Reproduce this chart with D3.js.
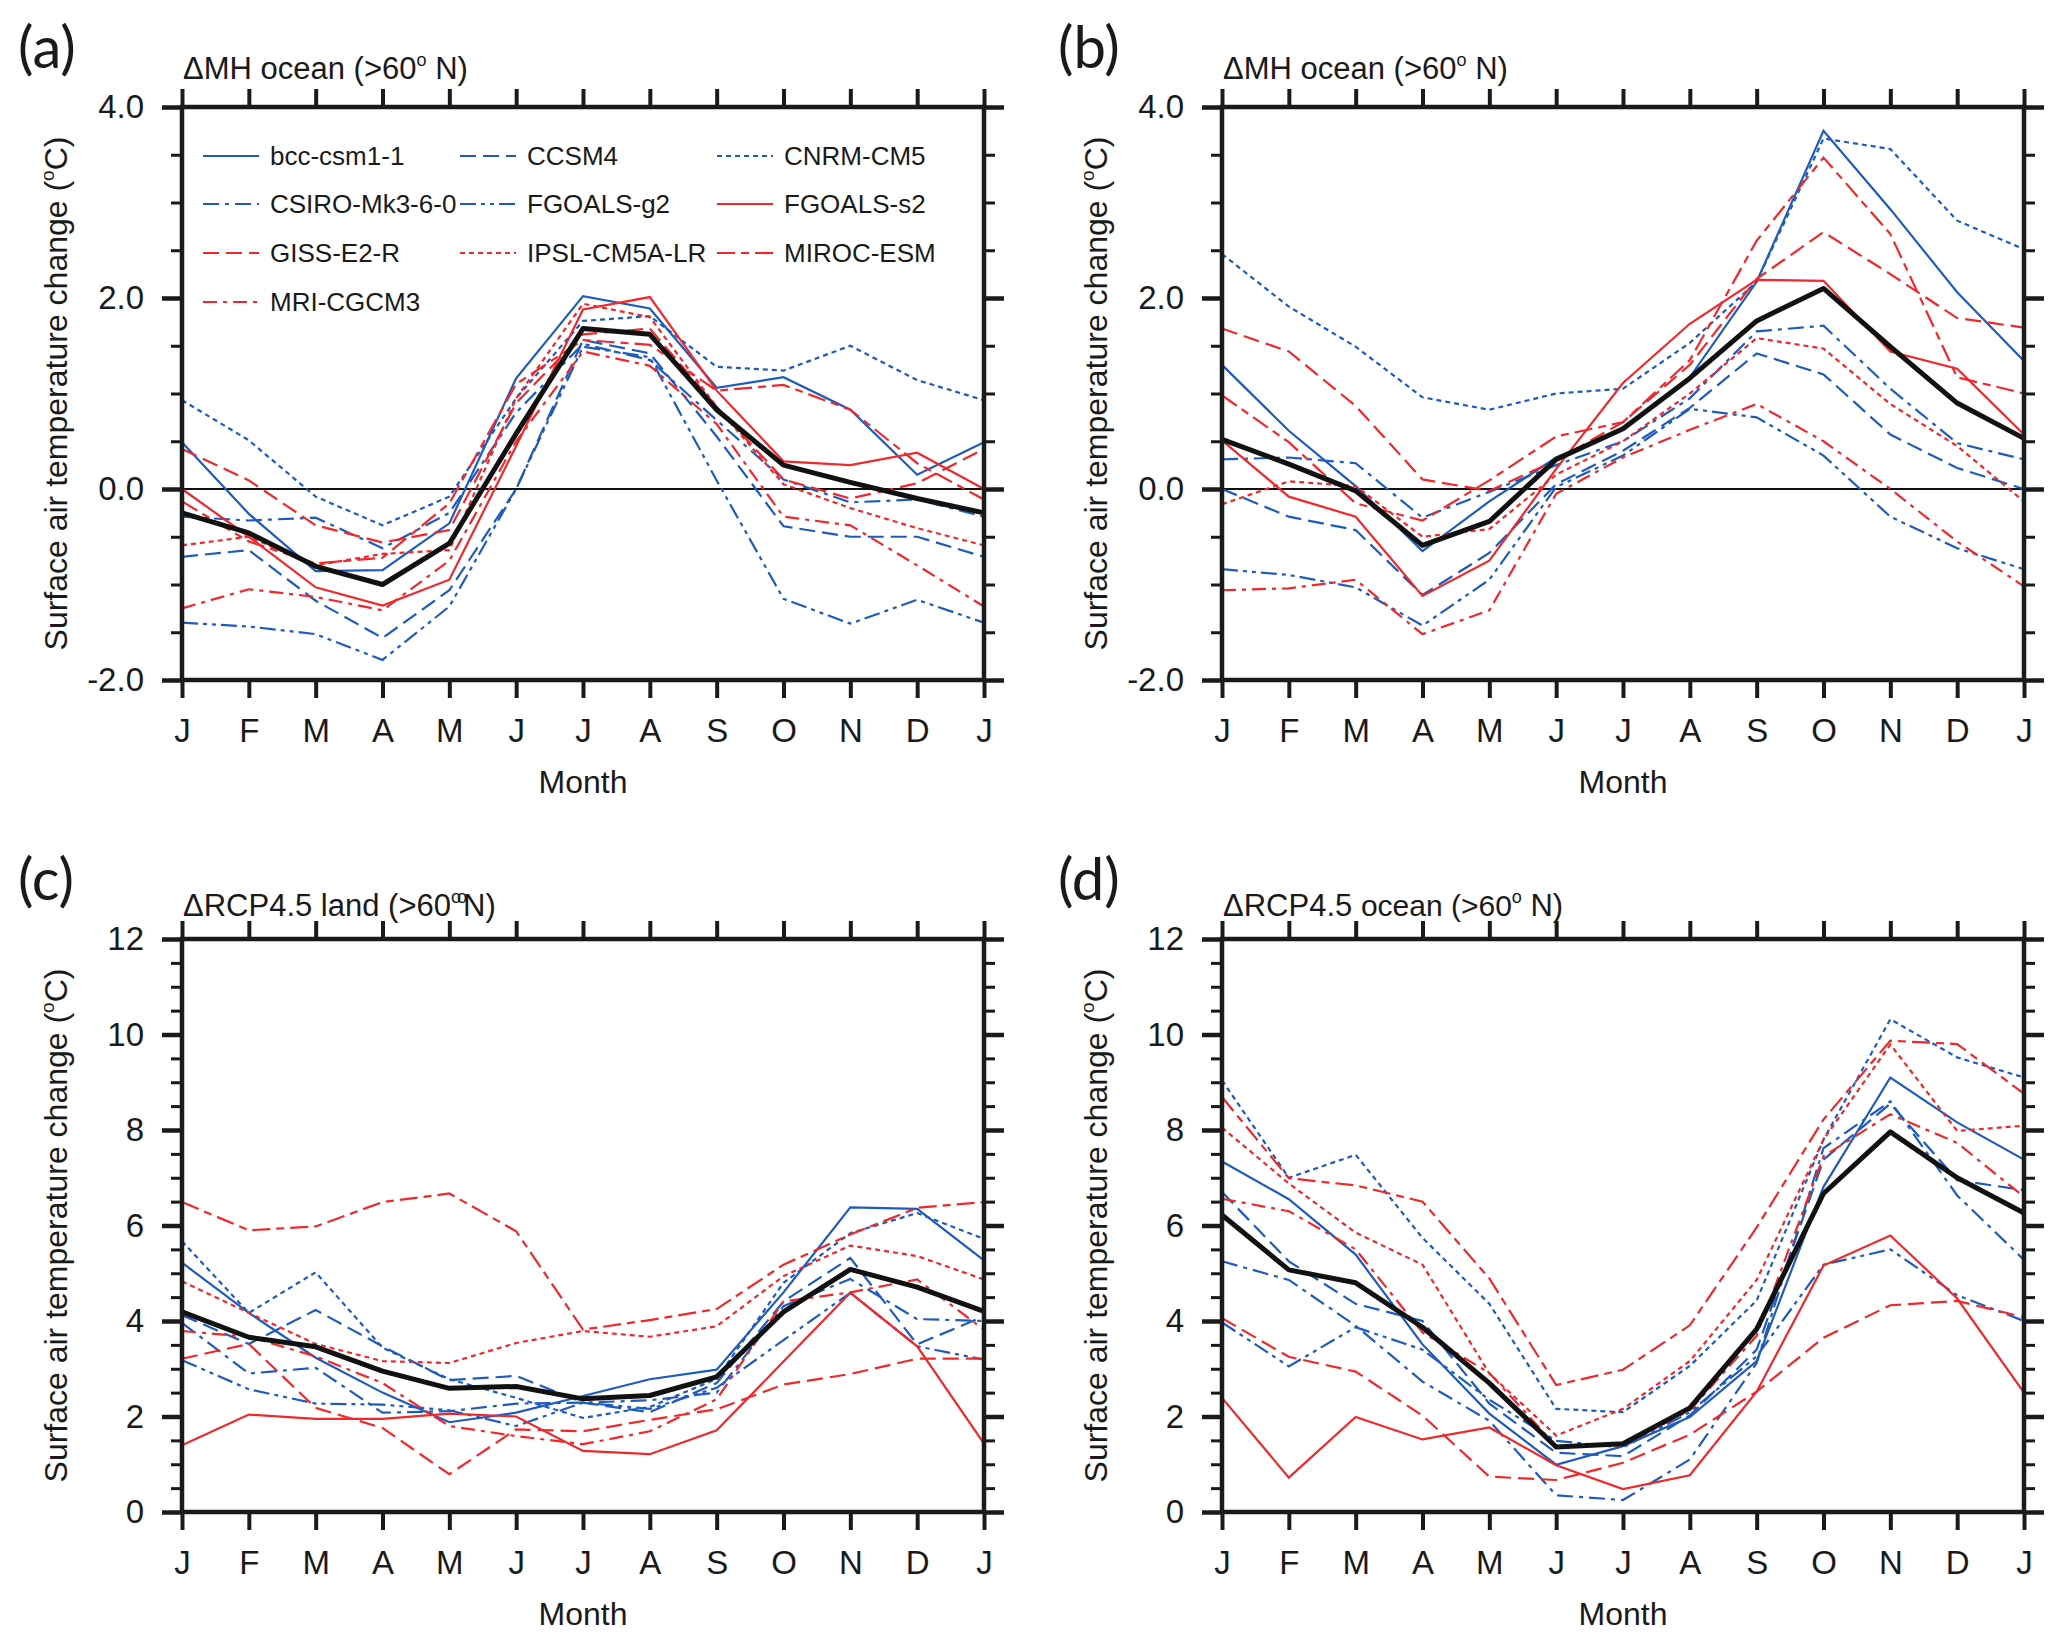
<!DOCTYPE html>
<html>
<head>
<meta charset="utf-8">
<script src="https://cdn.jsdelivr.net/npm/d3@7"></script>
<style>
body { margin: 0; background: #fff; }
text { font-family: "Liberation Sans", Arial, sans-serif; fill: #1a1a1a; }
.panel-label { font-family: Lato, "Open Sans", sans-serif; }
</style>
</head>
<body>
<svg id="chart"></svg>
<script>
// month ticks J..J (13 points, Jan repeated at the end)
var months = ["J", "F", "M", "A", "M", "J", "J", "A", "S", "O", "N", "D", "J"];

var models = ["bcc-csm1-1", "CCSM4", "CNRM-CM5", "CSIRO-Mk3-6-0", "FGOALS-g2",
              "FGOALS-s2", "GISS-E2-R", "IPSL-CM5A-LR", "MIROC-ESM", "MRI-CGCM3"];

// (a) dMH ocean, one row per model in the order above
var mhOceanA = [
  [0.49, -0.26, -0.86, -0.85, -0.36, 1.16, 2.02, 1.89, 1.06, 1.17, 0.83, 0.15, 0.49],
  [-0.71, -0.64, -1.17, -1.56, -1.06, 0.0, 1.56, 1.42, 0.55, -0.39, -0.5, -0.5, -0.71],
  [0.93, 0.51, -0.08, -0.38, -0.08, 0.95, 1.76, 1.81, 1.28, 1.24, 1.5, 1.14, 0.93],
  [-0.29, -0.33, -0.3, -0.62, -0.25, 0.8, 1.52, 1.35, 0.72, 0.1, -0.14, -0.11, -0.29],
  [-1.4, -1.44, -1.52, -1.79, -1.23, 0.0, 1.49, 1.38, 0.09, -1.15, -1.41, -1.16, -1.4],
  [0.0, -0.5, -1.03, -1.22, -0.95, 0.45, 1.88, 2.01, 1.03, 0.29, 0.25, 0.38, 0.0],
  [0.42, 0.09, -0.38, -0.56, -0.43, 0.9, 1.62, 1.68, 0.86, 0.1, -0.1, 0.06, 0.42],
  [-0.59, -0.5, -0.8, -0.68, -0.64, 0.95, 1.94, 1.8, 0.86, 0.05, -0.2, -0.41, -0.59],
  [-0.13, -0.55, -0.78, -0.72, -0.15, 1.1, 1.56, 1.51, 1.03, 1.09, 0.83, 0.27, -0.11],
  [-1.25, -1.05, -1.13, -1.27, -0.75, 0.5, 1.44, 1.29, 0.68, -0.29, -0.38, -0.8, -1.23]
];
var mhOceanAMean = [-0.25, -0.46, -0.81, -1.0, -0.57, 0.58, 1.68, 1.62, 0.83, 0.25, 0.07, -0.1, -0.25];

// (b) dMH ocean
var mhOceanB = [
  [1.3, 0.61, 0.03, -0.65, -0.13, 0.33, 0.62, 1.17, 2.17, 3.75, 2.93, 2.06, 1.34],
  [0.0, -0.29, -0.43, -1.11, -0.67, 0.05, 0.4, 0.85, 1.42, 1.2, 0.57, 0.22, 0.0],
  [2.46, 1.91, 1.49, 0.96, 0.83, 1.0, 1.05, 1.53, 2.17, 3.67, 3.56, 2.81, 2.51],
  [0.31, 0.33, 0.27, -0.3, -0.03, 0.25, 0.5, 0.95, 1.65, 1.71, 1.05, 0.48, 0.31],
  [-0.84, -0.9, -1.03, -1.43, -0.95, 0.02, 0.35, 0.84, 0.75, 0.35, -0.29, -0.62, -0.84],
  [0.51, -0.08, -0.29, -1.12, -0.75, 0.21, 1.11, 1.73, 2.19, 2.18, 1.44, 1.26, 0.57],
  [1.68, 1.44, 0.87, 0.1, -0.02, 0.3, 0.7, 1.3, 2.2, 2.69, 2.25, 1.79, 1.69],
  [-0.16, 0.08, 0.03, -0.5, -0.42, 0.15, 0.5, 1.0, 1.58, 1.47, 0.89, 0.45, -0.13],
  [0.98, 0.49, -0.15, -0.33, 0.09, 0.55, 0.7, 1.35, 2.6, 3.47, 2.67, 1.17, 1.0],
  [-1.06, -1.04, -0.95, -1.52, -1.27, -0.05, 0.33, 0.62, 0.89, 0.5, 0.0, -0.55, -1.02]
];
var mhOceanBMean = [0.52, 0.26, -0.02, -0.59, -0.34, 0.31, 0.63, 1.16, 1.76, 2.1, 1.49, 0.9, 0.53];

// (c) dRCP4.5 land
var rcpLand = [
  [5.22, 4.17, 3.23, 2.5, 1.88, 2.08, 2.43, 2.78, 2.98, 4.6, 6.38, 6.35, 5.27],
  [4.12, 3.52, 4.23, 3.47, 2.76, 2.85, 2.29, 2.09, 2.7, 4.41, 5.32, 3.51, 4.1],
  [5.67, 4.17, 5.02, 3.44, 2.78, 2.39, 1.97, 2.2, 2.79, 4.8, 5.84, 6.26, 5.72],
  [3.96, 2.9, 3.02, 2.08, 2.11, 2.27, 2.29, 2.34, 2.5, 4.31, 4.88, 4.04, 4.0],
  [3.18, 2.57, 2.27, 2.25, 2.13, 1.8, 2.29, 2.16, 2.6, 3.6, 4.59, 3.47, 3.19],
  [1.4, 2.04, 1.95, 1.95, 2.06, 2.0, 1.28, 1.21, 1.71, 3.15, 4.59, 3.47, 1.43],
  [3.21, 3.52, 2.18, 1.76, 0.79, 1.73, 1.69, 1.93, 2.15, 2.67, 2.89, 3.21, 3.21],
  [4.83, 4.17, 3.52, 3.16, 3.12, 3.54, 3.79, 3.67, 3.89, 4.94, 5.58, 5.36, 4.87],
  [6.49, 5.9, 5.98, 6.49, 6.67, 5.88, 3.82, 4.02, 4.25, 5.18, 5.81, 6.37, 6.49],
  [3.79, 3.67, 3.26, 2.7, 1.8, 1.59, 1.42, 1.69, 2.36, 4.41, 4.6, 4.87, 3.82]
];
var rcpLandMean = [4.19, 3.66, 3.46, 2.95, 2.59, 2.63, 2.37, 2.44, 2.83, 4.19, 5.08, 4.71, 4.2];

// (d) dRCP4.5 ocean
var rcpOcean = [
  [7.34, 6.55, 5.39, 3.51, 2.06, 0.99, 1.38, 1.99, 3.16, 6.81, 9.1, 8.16, 7.38],
  [6.7, 5.25, 4.36, 4.0, 2.27, 1.24, 1.17, 2.02, 3.4, 7.38, 8.55, 6.95, 6.74],
  [9.04, 7.0, 7.48, 5.74, 4.36, 2.16, 2.09, 3.06, 4.43, 7.8, 10.32, 9.52, 9.1],
  [5.25, 4.86, 3.9, 2.73, 1.91, 0.35, 0.25, 1.1, 3.12, 7.62, 8.6, 6.63, 5.28],
  [3.97, 3.05, 3.87, 3.4, 2.35, 1.49, 1.35, 2.09, 3.26, 5.18, 5.5, 4.54, 4.0],
  [2.39, 0.72, 1.99, 1.52, 1.77, 0.98, 0.48, 0.77, 2.52, 5.16, 5.79, 4.47, 2.5],
  [4.06, 3.25, 2.94, 2.02, 0.74, 0.67, 1.03, 1.62, 2.52, 3.65, 4.33, 4.42, 4.08],
  [8.05, 6.88, 5.85, 5.18, 2.9, 1.6, 2.16, 3.16, 4.86, 7.8, 9.79, 7.98, 8.09],
  [8.69, 6.99, 6.84, 6.5, 4.89, 2.66, 2.98, 3.91, 5.96, 8.22, 9.87, 9.8, 8.76],
  [6.56, 6.3, 5.5, 3.76, 2.91, 1.38, 1.4, 2.13, 3.69, 7.45, 8.33, 7.73, 6.6]
];
var rcpOceanMean = [6.22, 5.07, 4.8, 3.87, 2.7, 1.36, 1.43, 2.18, 3.83, 6.67, 7.96, 7.0, 6.26];

var blue = "#1f5bbd", red = "#f0282c";
var colors = [blue, blue, blue, blue, blue, red, red, red, red, red];
var dashes = [null, "16,7", "5,4", "16,6,4,6", "16,5,4,5,4,5",
              null, "16,7", "5,4", "18,6,8,6", "14,6,4,6"];

var W = 2067, H = 1649;
var w = 802, h = 573; // plot box

var svg = d3.select("#chart").attr("width", W).attr("height", H);
svg.append("rect").attr("width", W).attr("height", H).attr("fill", "#fff");

var x = d3.scaleLinear().domain([0, 12]).range([0, w]);

function drawPanel(opt) {
  var g = svg.append("g").attr("transform", "translate(" + opt.x0 + "," + opt.y0 + ")");
  var y = d3.scaleLinear().domain(opt.domain).range([h, 0]);

  var line = d3.line()
    .x(function(d, i) { return x(i); })
    .y(function(d) { return y(d); });

  // panel letter
  svg.append("text").attr("class", "panel-label")
    .attr("x", opt.x0 - 164).attr("y", opt.y0 - 39)
    .attr("font-size", 58).text(opt.letter);

  // title
  var t = g.append("text").attr("x", 1).attr("y", opt.titleY).attr("font-size", 31);
  t.append("tspan").text(opt.title[0]);
  t.append("tspan").attr("font-size", opt.title[3] || 31).text(opt.title[1]);
  t.append("tspan").attr("font-size", 18).attr("dy", -13).attr("letter-spacing", opt.supSpacing || 0).text(opt.sup);
  t.append("tspan").attr("dy", 13).text(opt.title[2]);

  // zero line
  if (opt.zero) {
    g.append("line").attr("x1", 0).attr("x2", w)
      .attr("y1", y(0)).attr("y2", y(0))
      .attr("stroke", "#111").attr("stroke-width", 2);
  }

  // model lines
  opt.data.forEach(function(s, i) {
    g.append("path")
      .attr("d", line(s))
      .attr("fill", "none")
      .attr("stroke", colors[i])
      .attr("stroke-width", 2.2)
      .attr("stroke-dasharray", dashes[i]);
  });

  // ensemble mean
  g.append("path")
    .attr("d", line(opt.mean))
    .attr("fill", "none")
    .attr("stroke", "#111")
    .attr("stroke-width", 5)
    .attr("stroke-linejoin", "round");

  // axes
  var monthIdx = d3.range(13);
  function style(sel, sw) {
    sel.select(".domain").remove();
    sel.selectAll(".tick line").attr("stroke", "#1a1a1a").attr("stroke-width", sw);
    sel.selectAll("text").attr("font-size", 33).attr("fill", "#1a1a1a")
      .style("font-family", "'Liberation Sans', Arial, sans-serif");
  }
  g.append("g").call(d3.axisLeft(y).tickValues(opt.minor).tickSize(11).tickFormat(""))
    .call(style, 3);
  g.append("g").call(d3.axisLeft(y).tickValues(opt.major).tickSize(20).tickPadding(18).tickFormat(opt.fmt))
    .call(style, 4.5);
  g.append("g").attr("transform", "translate(" + w + ",0)")
    .call(d3.axisRight(y).tickValues(opt.minor).tickSize(11).tickFormat(""))
    .call(style, 3);
  g.append("g").attr("transform", "translate(" + w + ",0)")
    .call(d3.axisRight(y).tickValues(opt.major).tickSize(20).tickFormat(""))
    .call(style, 4.5);
  g.append("g").attr("transform", "translate(0," + h + ")")
    .call(d3.axisBottom(x).tickValues(monthIdx).tickSize(18).tickPadding(21)
      .tickFormat(function(i) { return months[i]; }))
    .call(style, 4);
  g.append("g")
    .call(d3.axisTop(x).tickValues(monthIdx).tickSize(18).tickFormat(""))
    .call(style, 4);

  g.append("rect").attr("width", w).attr("height", h)
    .attr("fill", "none").attr("stroke", "#1a1a1a").attr("stroke-width", 4.5);

  // axis titles
  g.append("text").attr("x", w / 2).attr("y", h + 113)
    .attr("text-anchor", "middle").attr("font-size", 32).text("Month");
  var yl = g.append("text")
    .attr("transform", "translate(" + (-115) + "," + (h / 2) + ") rotate(-90)")
    .attr("text-anchor", "middle").attr("font-size", 32);
  yl.append("tspan").text("Surface air temperature change (");
  yl.append("tspan").attr("font-size", 19).attr("dy", -13).text("o");
  yl.append("tspan").attr("dy", 13).text("C)");

  return g;
}

var fmt1 = function(d) { return d3.format(".1f")(d).replace("−", "-"); };
var fmt0 = function(d) { return d3.format("d")(d); };
var minorMH = d3.range(-2, 4.01, 0.5);
var minorRCP = d3.range(0, 12.01, 0.5);

var gA = drawPanel({ x0: 182, y0: 107, letter: "(a)", domain: [-2, 4], zero: true, titleY: -28,
  title: ["ΔMH ocean (>60", "", " N)"], sup: "o",
  major: [-2, 0, 2, 4], minor: minorMH, fmt: fmt1, data: mhOceanA, mean: mhOceanAMean });
drawPanel({ x0: 1222, y0: 107, letter: "(b)", domain: [-2, 4], zero: true, titleY: -28,
  title: ["ΔMH ocean (>60", "", " N)"], sup: "o",
  major: [-2, 0, 2, 4], minor: minorMH, fmt: fmt1, data: mhOceanB, mean: mhOceanBMean });
drawPanel({ x0: 182, y0: 939, letter: "(c)", domain: [0, 12], zero: false, titleY: -23,
  title: ["ΔRCP4.5  land (>60", "", "N)"], sup: "oo", supSpacing: -4,
  major: [0, 2, 4, 6, 8, 10, 12], minor: minorRCP, fmt: fmt0, data: rcpLand, mean: rcpLandMean });
drawPanel({ x0: 1222, y0: 939, letter: "(d)", domain: [0, 12], zero: false, titleY: -23,
  title: ["ΔRCP4.5 ", "ocean (>60", " N)", 30], sup: "o",
  major: [0, 2, 4, 6, 8, 10, 12], minor: minorRCP, fmt: fmt0, data: rcpOcean, mean: rcpOceanMean });

// legend in panel (a)
var colX = [21, 278, 535];
var rowY = [49, 97, 146, 195];
var leg = gA.append("g");
models.forEach(function(m, i) {
  var cx = colX[i % 3], cy = rowY[Math.floor(i / 3)];
  leg.append("line").attr("x1", cx).attr("x2", cx + 56).attr("y1", cy).attr("y2", cy)
    .attr("stroke", colors[i]).attr("stroke-width", 2.2).attr("stroke-dasharray", dashes[i]);
  leg.append("text").attr("x", cx + 67).attr("y", cy + 9).attr("font-size", 26).text(m);
});
</script>
</body>
</html>
